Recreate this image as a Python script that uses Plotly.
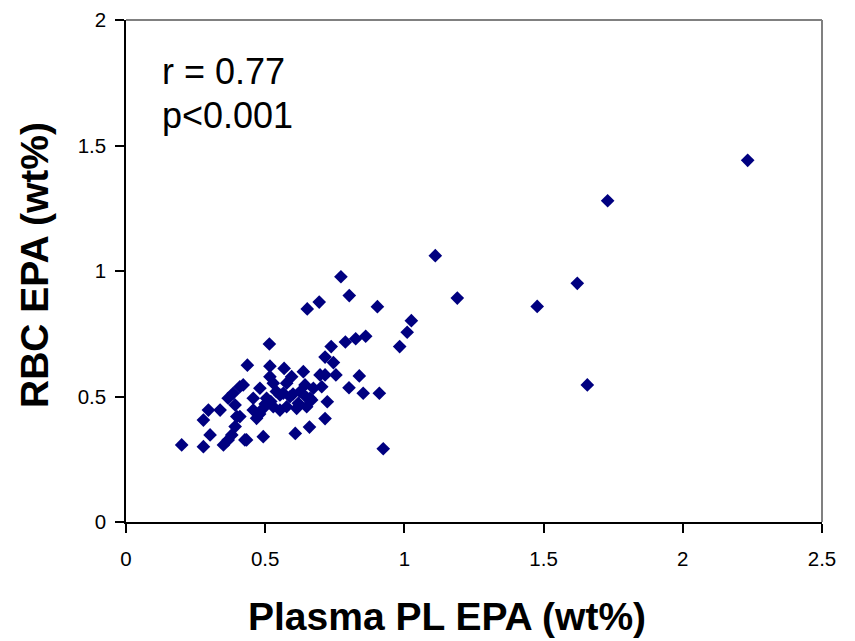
import plotly.graph_objects as go

# Plasma PL EPA (wt%)
plasma_epa = [2.233, 1.730, 1.111, 1.190, 1.477, 1.621, 1.657,
              0.903, 1.025, 1.010, 0.983, 0.910, 0.924,
              0.772, 0.802, 0.694, 0.651,
              0.861, 0.825, 0.788, 0.737, 0.715, 0.745, 0.754, 0.715, 0.838, 0.801, 0.852, 0.723, 0.715, 0.659, 0.608,
              0.568, 0.637, 0.595, 0.697, 0.643, 0.703, 0.673, 0.667, 0.619, 0.577, 0.565, 0.625, 0.661,
              0.515, 0.436, 0.517, 0.517, 0.421, 0.481, 0.529, 0.577, 0.457, 0.505, 0.553, 0.589, 0.649,
              0.457, 0.493, 0.529, 0.553, 0.613, 0.649, 0.469, 0.493, 0.433, 0.409,
              0.409, 0.385, 0.367, 0.338, 0.296, 0.278, 0.392, 0.398, 0.392, 0.380, 0.367, 0.350, 0.302, 0.278, 0.200, 0.427,
              0.500, 0.520, 0.480, 0.540, 0.600]
# RBC EPA (wt%)
rbc_epa = [1.441, 1.280, 1.061, 0.892, 0.859, 0.951, 0.546,
           0.858, 0.802, 0.756, 0.699, 0.513, 0.292,
           0.977, 0.902, 0.876, 0.849,
           0.740, 0.730, 0.717, 0.699, 0.657, 0.635, 0.586, 0.586, 0.582, 0.535, 0.513, 0.479, 0.412, 0.378, 0.353,
           0.612, 0.599, 0.579, 0.586, 0.546, 0.539, 0.533, 0.486, 0.473, 0.459, 0.513, 0.519, 0.493,
           0.709, 0.625, 0.621, 0.579, 0.546, 0.533, 0.553, 0.553, 0.493, 0.493, 0.506, 0.499, 0.496,
           0.446, 0.453, 0.459, 0.446, 0.453, 0.459, 0.413, 0.340, 0.327, 0.420,
           0.539, 0.513, 0.493, 0.446, 0.446, 0.406, 0.466, 0.420, 0.380, 0.347, 0.327, 0.307, 0.347, 0.300, 0.307, 0.327,
           0.470, 0.480, 0.430, 0.520, 0.510]

stats_lines = ["r = 0.77", "p<0.001"]
x_title = "Plasma PL EPA (wt%)"
y_title = "RBC EPA (wt%)"

FONT = "Liberation Sans, Arial, sans-serif"

# the page body adds an 8px offset; compensate so the plot area sits at
# x 126..822, y 20..522 in the screenshot
OFF = 8
L, T, PW, PH = 126 - OFF, 20 - OFF, 696, 502
W, H = 855 - OFF, 641 - OFF


def px(xp):
    return (xp - OFF - L) / PW


def py(yp):
    return (T + PH - (yp - OFF)) / PH


fig = go.Figure()
fig.add_trace(go.Scatter(
    x=plasma_epa, y=rbc_epa, mode="markers",
    marker=dict(symbol="diamond", size=10.5, color="#000080",
                line=dict(width=0)),
    showlegend=False, hoverinfo="x+y"))

fig.update_layout(
    width=W, height=H,
    margin=dict(l=L, r=W - L - PW, t=T, b=H - T - PH, autoexpand=False),
    paper_bgcolor="white", plot_bgcolor="white",
    font=dict(family=FONT, color="black"),
    xaxis=dict(range=[0, 2.5], dtick=0.5, tick0=0, showgrid=False, zeroline=False,
               showline=True, linecolor="black", linewidth=1.5,
               ticks="outside", ticklen=9, tickcolor="black", tickwidth=1.5,
               ticklabelstandoff=9,
               tickfont=dict(size=20.5, family=FONT, color="black")),
    yaxis=dict(range=[0, 2], dtick=0.5, tick0=0, showgrid=False, zeroline=False,
               showline=True, linecolor="black", linewidth=1.5,
               ticks="outside", ticklen=9, tickcolor="black", tickwidth=1.5,
               ticklabelstandoff=5,
               tickfont=dict(size=20.5, family=FONT, color="black")),
)

# grey top/right frame
fig.add_shape(type="line", xref="paper", yref="paper", x0=0, x1=1, y0=1, y1=1,
              line=dict(color="#808080", width=2))
fig.add_shape(type="line", xref="paper", yref="paper", x0=1, x1=1, y0=0, y1=1,
              line=dict(color="#808080", width=2))

# statistics text
fig.add_annotation(text=stats_lines[0], xref="paper", yref="paper",
                   x=px(160), y=py(71), xanchor="left", yanchor="middle",
                   showarrow=False, font=dict(size=36, family=FONT, color="black"))
fig.add_annotation(text=stats_lines[1], xref="paper", yref="paper",
                   x=px(160), y=py(115), xanchor="left", yanchor="middle",
                   showarrow=False, font=dict(size=36, family=FONT, color="black"))

# axis titles
fig.add_annotation(text="<b>" + x_title + "</b>", xref="paper", yref="paper",
                   x=px(447), y=py(616), xanchor="center", yanchor="middle",
                   showarrow=False, font=dict(size=39, family=FONT, color="black"))
fig.add_annotation(text="<b>" + y_title + "</b>", xref="paper", yref="paper",
                   x=px(34), y=py(265), xanchor="center", yanchor="middle",
                   textangle=-90,
                   showarrow=False, font=dict(size=39, family=FONT, color="black"))

fig.write_html("out.html")
